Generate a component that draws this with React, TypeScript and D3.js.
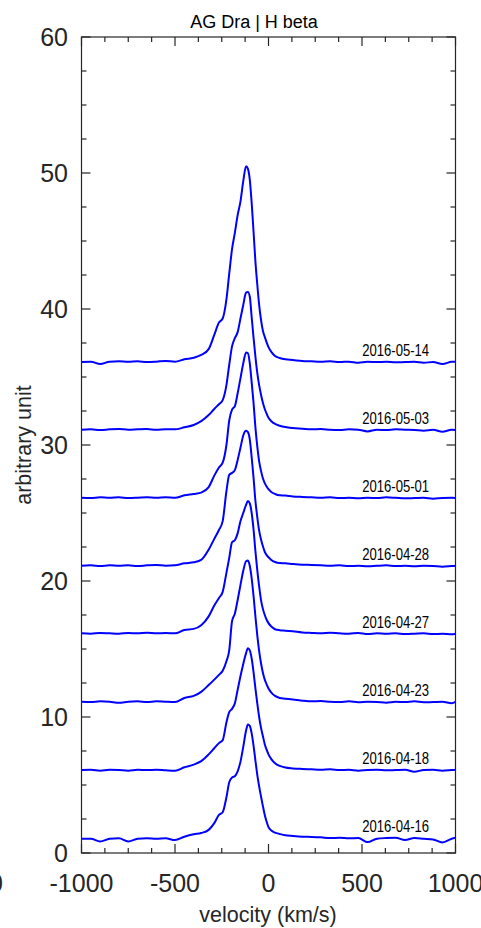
import React from 'react';
import * as d3 from 'd3';

// velocity grid (km/s)
const velocity = [-1000,-950,-900,-850,-800,-750,-700,-650,-600,-550,-500,-450,-400,-360,-320,-290,-265,-245,-225,-210,-195,-180,-165,-150,-135,-120,-110,-100,-90,-80,-70,-60,-50,-40,-30,-20,-10,0,15,35,60,90,130,180,230,280,330,380,430,480,530,580,630,680,730,780,830,880,930,980,1000];

const dates = ['2016-04-16','2016-04-18','2016-04-23','2016-04-27','2016-04-28','2016-05-01','2016-05-03','2016-05-14'];
const offsets = [0,5,10,15,20,25,30,35];

const flux0416 = [1.05,1.05,0.85,1.05,1.08,0.85,1.05,1.08,1.05,1.08,0.95,
  1.20,1.38,1.47,1.70,2.20,2.80,3.00,4.10,5.20,5.55,5.65,6.00,6.70,7.80,
  9.00,9.45,9.35,8.80,7.90,6.80,5.75,4.90,4.15,3.45,2.80,2.30,1.90,
  1.65,1.50,1.40,1.30,1.25,
  1.20,1.18,1.15,1.10,1.12,1.08,1.10,0.80,1.05,1.10,1.12,0.95,1.10,1.05,1.00,0.78,1.05,1.12];
const flux0418 = [1.10,1.12,1.05,1.12,1.10,1.05,1.12,1.10,1.12,1.08,1.05,
  1.30,1.50,1.75,2.25,2.70,3.08,3.30,4.60,5.35,5.60,6.00,7.00,8.00,8.90,
  9.70,10.05,9.90,9.30,8.30,7.10,6.00,5.00,4.20,3.60,3.00,2.60,2.25,
  1.90,1.60,1.40,1.28,1.22,
  1.18,1.15,1.12,1.15,1.10,1.12,1.05,1.10,1.12,1.08,1.10,1.12,0.98,1.10,1.12,1.05,1.10,1.12];
const flux0423 = [1.12,1.10,1.15,1.12,1.05,1.12,1.15,1.10,1.15,1.12,1.10,
  1.40,1.55,1.85,2.35,2.75,3.10,3.40,4.10,4.90,7.05,7.60,8.60,9.70,10.75,
  11.45,11.50,11.10,10.20,8.90,7.40,6.00,4.85,3.95,3.25,2.75,2.40,2.10,
  1.80,1.55,1.40,1.35,1.28,
  1.20,1.15,1.18,1.12,1.10,1.15,1.08,1.12,1.10,1.05,1.12,1.10,1.15,1.08,1.10,1.12,1.02,1.12];
const flux0427 = [1.15,1.12,1.18,1.15,1.12,1.18,1.15,1.20,1.15,1.18,1.15,
  1.40,1.48,1.75,2.40,3.20,3.75,4.20,5.60,6.70,7.85,8.00,8.50,9.40,10.00,
  10.60,10.88,10.70,10.00,8.80,7.20,5.80,4.60,3.60,2.95,2.50,2.15,1.90,
  1.65,1.45,1.38,1.35,1.30,
  1.22,1.18,1.15,1.20,1.15,1.12,1.18,1.10,1.15,1.12,1.15,1.10,1.12,1.15,1.10,1.12,1.08,1.12];
const flux0428 = [1.12,1.15,1.10,1.15,1.12,1.15,1.10,1.15,1.18,1.12,1.15,
  1.30,1.38,1.55,2.30,3.10,3.75,4.40,6.60,7.80,7.95,8.15,8.90,9.80,10.70,
  11.05,10.95,10.40,9.10,7.60,5.90,4.70,3.70,3.05,2.55,2.15,1.90,1.75,
  1.55,1.40,1.32,1.30,1.25,
  1.20,1.18,1.15,1.12,1.15,1.10,1.12,1.08,1.12,1.15,1.10,1.12,1.08,1.12,1.10,1.05,1.10,1.12];
const flux0501 = [1.12,1.10,1.15,1.12,1.15,1.10,1.12,1.15,1.12,1.15,1.12,
  1.30,1.40,1.50,1.90,2.75,3.35,3.70,5.00,6.80,7.60,7.85,8.80,9.90,11.00,
  11.80,11.75,11.00,9.60,8.10,6.30,4.90,3.80,3.10,2.55,2.20,1.95,1.75,
  1.55,1.40,1.30,1.28,1.22,
  1.18,1.15,1.12,1.15,1.10,1.12,1.08,1.12,1.10,1.15,1.12,1.08,1.10,1.12,1.05,1.10,1.12,1.10];
const flux0503 = [1.12,1.15,1.10,1.15,1.18,1.12,1.15,1.17,1.12,1.15,1.15,
  1.30,1.47,1.75,2.20,2.65,3.00,3.30,4.40,5.90,7.25,7.85,8.30,9.30,10.30,
  11.20,11.25,10.90,9.40,7.90,6.50,5.30,4.40,3.70,3.10,2.65,2.30,2.00,
  1.75,1.55,1.42,1.32,1.25,
  1.20,1.15,1.18,1.12,1.10,1.15,1.12,1.00,1.12,1.10,1.15,1.12,1.10,1.05,1.12,0.98,1.12,1.10];
const flux0514 = [1.10,1.12,0.95,1.13,1.15,1.12,1.15,1.10,1.13,1.18,1.12,
  1.30,1.42,1.62,2.05,3.10,4.00,4.30,5.70,7.60,9.40,10.60,11.90,12.90,14.40,
  15.50,15.30,14.50,12.80,10.70,8.50,6.80,5.30,4.20,3.40,2.95,2.55,2.20,
  1.85,1.55,1.40,1.30,1.25,
  1.18,1.15,1.12,1.15,1.10,1.13,1.05,1.12,1.10,1.12,1.08,1.10,1.12,1.05,1.10,0.95,1.12,1.13];

const fluxes = [flux0416, flux0418, flux0423, flux0427, flux0428, flux0501, flux0503, flux0514];

const xTickLabels = ['-1000', '-500', '0', '500', '1000'];
const xMajor = [-1000, -500, 0, 500, 1000];
const yMajor = [0, 10, 20, 30, 40, 50, 60];

const FONT = '"Liberation Sans", Arial, Helvetica, sans-serif';
const AX = '#262626';

export default function App() {
  const W = 481, H = 928;
  const x = d3.scaleLinear().domain([-1000, 1000]).range([81.5, 455.5]);
  const y = d3.scaleLinear().domain([0, 60]).range([853, 37]);
  const [x0, x1] = x.range();
  const [yb, yt] = y.range();

  const xMinor = d3.range(-1000, 1001, 125);
  const yMinor = d3.range(0, 60.01, 2.5);

  const makeLine = (off: number) =>
    d3.line<number>()
      .x((_, i) => x(velocity[i]))
      .y((d) => y(d + off))
      .curve(d3.curveMonotoneX);

  const tickEls: React.ReactNode[] = [];
  xMinor.forEach((v, i) => {
    const len = xMajor.includes(v) ? 9 : 5;
    const px = x(v);
    tickEls.push(<line key={'xb' + i} x1={px} x2={px} y1={yb} y2={yb - len} />);
    tickEls.push(<line key={'xt' + i} x1={px} x2={px} y1={yt} y2={yt + len} />);
  });
  yMinor.forEach((v, i) => {
    const len = yMajor.includes(v) ? 9 : 5;
    const py = y(v);
    tickEls.push(<line key={'yl' + i} x1={x0} x2={x0 + len} y1={py} y2={py} />);
    tickEls.push(<line key={'yr' + i} x1={x1} x2={x1 - len} y1={py} y2={py} />);
  });

  return (
    <div style={{ position: 'absolute', left: 0, top: 0 }}>
      <svg width={W} height={H} viewBox={`0 0 ${W} ${H}`} style={{ display: 'block', background: '#fff' }}>
        <defs>
          <clipPath id="plotclip">
            <rect x={x0} y={yt} width={x1 - x0} height={yb - yt} />
          </clipPath>
        </defs>
        <rect x={0} y={0} width={W} height={H} fill="#fff" />
        <g clipPath="url(#plotclip)">
          {fluxes.map((f, k) => (
            <path key={k} d={makeLine(offsets[k])(f) || ''} fill="none" stroke="#0000ff" strokeWidth={2} strokeLinejoin="round" />
          ))}
        </g>
        {dates.map((d, k) => (
          <text key={d} x={x(680)} y={y(offsets[k] + 1.55)} textAnchor="middle" fontFamily={'"Liberation Sans Narrow", ' + FONT}
            fontSize={16} textLength={67} lengthAdjust="spacingAndGlyphs" fill="#000">{d}</text>
        ))}
        <g stroke={AX} strokeWidth={1.2}>
          {tickEls}
          <rect x={x0} y={yt} width={x1 - x0} height={yb - yt} fill="none" />
        </g>
        {yMajor.map((v) => (
          <text key={'yl' + v} x={68} y={y(v)} dy="0.36em" textAnchor="end" fontFamily={FONT} fontSize={25} fill={AX}>{v}</text>
        ))}
        {xMajor.map((v, i) => (
          <text key={'xl' + v} x={x(v)} y={892} textAnchor="middle" fontFamily={FONT} fontSize={25} fill={AX}>{xTickLabels[i]}</text>
        ))}
        <text x={3} y={892} textAnchor="end" fontFamily={FONT} fontSize={25} fill={AX}>1000</text>
        <text x={268} y={922} textAnchor="middle" fontFamily={FONT} fontSize={21.5} fill={AX}>velocity (km/s)</text>
        <text transform={`translate(31,445) rotate(-90)`} textAnchor="middle" fontFamily={FONT} fontSize={21.5} fill={AX}>arbitrary unit</text>
        <text x={254} y={28} textAnchor="middle" fontFamily={FONT} fontSize={18} fill="#000">AG Dra | H beta</text>
      </svg>
    </div>
  );
}
